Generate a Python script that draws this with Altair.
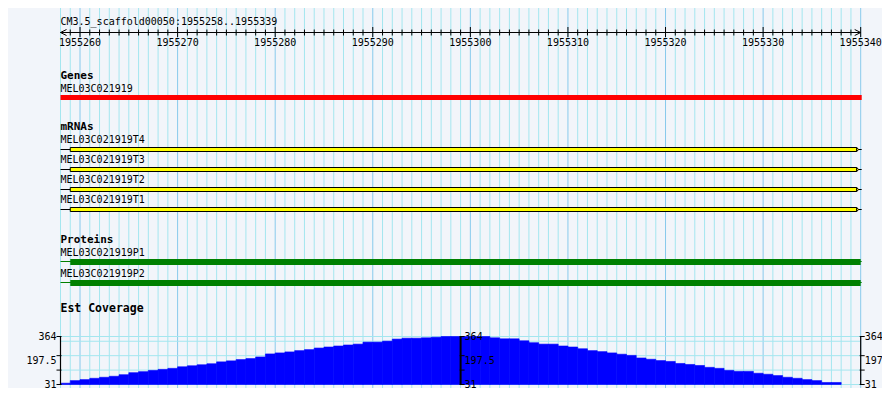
import altair as alt
import pandas as pd

# ---------------- data ----------------
scaffold = "CM3.5_scaffold00050"
view_start = 1955258
view_end = 1955339  # inclusive

gene_names = ["MEL03C021919"]
gene_start = [1955258]
gene_end = [1955340]

mrna_names = ["MEL03C021919T4", "MEL03C021919T3", "MEL03C021919T2", "MEL03C021919T1"]
mrna_start = [1955258, 1955258, 1955258, 1955258]
mrna_exon_start = [1955259, 1955259, 1955259, 1955259]
mrna_end = [1955340, 1955340, 1955340, 1955340]

protein_names = ["MEL03C021919P1", "MEL03C021919P2"]
protein_start = [1955258, 1955258]
protein_cds_start = [1955259, 1955259]
protein_end = [1955340, 1955340]

# EST coverage, one value per base starting at view_start
coverage = [40, 58, 65, 74, 81, 88, 99, 113, 120, 129,
            136, 143, 154, 161, 168, 175, 188, 195, 204, 211,
            222, 243, 250, 257, 266, 273, 284, 291, 298, 305,
            311, 325, 325, 332, 346, 352, 352, 355, 359, 364,
            364, 364, 364, 364, 355, 348, 348, 334, 321, 311,
            311, 298, 291, 279, 266, 259, 250, 241, 233, 215,
            206, 197, 191, 177, 170, 163, 150, 143, 129, 122,
            122, 109, 102, 93, 81, 74, 65, 58, 45, 45]
cov_min, cov_max = 31, 364
cov_label_values = [364, 197.5, 31]
cov_tick_values = [364, 231, 131, 31]
cov_grid_values = [364, 331, 231, 131, 31]

# ---------------- style ----------------
BG = "#F2F5FA"
GRID_MINOR = "#A4E6EF"
GRID_MAJOR = "#88CAEC"
FONT = "DejaVu Sans Mono"
W, H = 874, 380

xscale = alt.Scale(domain=[view_start, view_end + 1], range=[52.5, 852.7], nice=False, zero=False)
yscale = alt.Scale(domain=[cov_min, cov_max], range=[376.5, 328.5], nice=False, zero=False)


def X(f):
    return alt.X(f"{f}:Q", scale=xscale, axis=None)


def Yc(f):
    return alt.Y(f"{f}:Q", scale=yscale, axis=None)


def text_layer(df, field, y, bold=False, size=10, xfield="x"):
    return alt.Chart(df).mark_text(
        align="left", baseline="middle", font=FONT, fontSize=size,
        fontWeight="bold" if bold else "normal", color="black"
    ).encode(x=X(xfield), y=alt.value(y), text=f"{field}:N")


layers = []

# vertical grid
pos = list(range(view_start, view_end + 2))
grid_df = pd.DataFrame({"pos": pos, "major": [p % 10 == 0 for p in pos]})
layers.append(alt.Chart(grid_df).transform_filter("!datum.major").mark_rule(
    color=GRID_MINOR, strokeWidth=1).encode(x=X("pos"), y=alt.value(0), y2=alt.value(H)))
layers.append(alt.Chart(grid_df).transform_filter("datum.major").mark_rule(
    color=GRID_MAJOR, strokeWidth=1).encode(x=X("pos"), y=alt.value(0), y2=alt.value(H)))

# title + ruler
title_df = pd.DataFrame({"x": [view_start], "t": [f"{scaffold}:{view_start}..{view_end}"]})
layers.append(text_layer(title_df, "t", 13.5))

span_df = pd.DataFrame({"a": [view_start], "b": [view_end + 1]})
layers.append(alt.Chart(span_df).mark_rule(color="black", strokeWidth=1).encode(
    x=X("a"), x2="b:Q", y=alt.value(24.5)))
layers.append(alt.Chart(span_df).mark_point(
    shape="M2,-1L0,0L2,1", size=36, filled=False, stroke="black", strokeWidth=1, opacity=1
).encode(x=X("a"), y=alt.value(24.5)))
layers.append(alt.Chart(span_df).mark_point(
    shape="M-2,-1L0,0L-2,1", size=36, filled=False, stroke="black", strokeWidth=1, opacity=1
).encode(x=X("b"), y=alt.value(24.5)))

tick_df = pd.DataFrame({"pos": pos[1:], "major": [p % 10 == 0 for p in pos[1:]],
                        "label": [str(p) for p in pos[1:]]})
layers.append(alt.Chart(tick_df).transform_filter("!datum.major").mark_rule(
    color="black").encode(x=X("pos"), y=alt.value(21.5), y2=alt.value(27.5)))
layers.append(alt.Chart(tick_df).transform_filter("datum.major").mark_rule(
    color="black").encode(x=X("pos"), y=alt.value(19), y2=alt.value(29)))
layers.append(alt.Chart(tick_df).transform_filter("datum.major").mark_text(
    align="center", baseline="middle", font=FONT, fontSize=10, color="black"
).encode(x=X("pos"), y=alt.value(34.5), text="label:N"))

# Genes track
hdr_df = pd.DataFrame({"x": [view_start], "t": ["Genes"]})
layers.append(text_layer(hdr_df, "t", 68, bold=True, size=11))
gdf = pd.DataFrame({"x": gene_start, "x2": gene_end, "name": gene_names})
layers.append(text_layer(gdf, "name", 80.5))
layers.append(alt.Chart(gdf).mark_rect(color="#FF0000", x2Offset=1).encode(
    x=X("x"), x2="x2:Q", y=alt.value(87), y2=alt.value(92)))

# mRNA track
layers.append(text_layer(pd.DataFrame({"x": [view_start], "t": ["mRNAs"]}), "t", 119.3, bold=True, size=11))
for i, name in enumerate(mrna_names):
    d = pd.DataFrame({"x": [mrna_start[i]], "xe": [mrna_exon_start[i]], "x2": [mrna_end[i]], "name": [name]})
    dy = 20 * i
    layers.append(text_layer(d, "name", 132 + dy))
    layers.append(alt.Chart(d).mark_rule(color="black", strokeWidth=1, x2Offset=1).encode(
        x=X("x"), x2="x2:Q", y=alt.value(141.5 + dy)))
    layers.append(alt.Chart(d).mark_rect(fill="#FFFF00", stroke="black", strokeWidth=1, x2Offset=-4).encode(
        x=X("xe"), x2="x2:Q", y=alt.value(139.5 + dy), y2=alt.value(143.5 + dy)))
    layers.append(alt.Chart(d).mark_point(
        shape="M-1,-1L0,0L-1,1Z", size=16, filled=True, fill="#FFFF00", stroke="black",
        strokeWidth=1, opacity=1, xOffset=-2
    ).encode(x=X("x2"), y=alt.value(141.5 + dy)))

# Proteins track
layers.append(text_layer(pd.DataFrame({"x": [view_start], "t": ["Proteins"]}), "t", 232, bold=True, size=11))
for i, name in enumerate(protein_names):
    d = pd.DataFrame({"x": [protein_start[i]], "xc": [protein_cds_start[i]], "x2": [protein_end[i]], "name": [name]})
    dy = 21 * i
    layers.append(text_layer(d, "name", 244.5 + dy))
    layers.append(alt.Chart(d).mark_rule(color="#008000", strokeWidth=1, x2Offset=1).encode(
        x=X("x"), x2="x2:Q", y=alt.value(253.5 + dy)))
    layers.append(alt.Chart(d).mark_rect(color="#008000").encode(
        x=X("xc"), x2="x2:Q", y=alt.value(251 + dy), y2=alt.value(257 + dy)))

# Est Coverage track
layers.append(text_layer(pd.DataFrame({"x": [view_start], "t": ["Est Coverage"]}), "t", 301, bold=True, size=11.5))
hg_df = pd.DataFrame({"v": cov_grid_values, "a": view_start, "b": view_end + 1})
layers.append(alt.Chart(hg_df).mark_rule(color=GRID_MINOR, strokeWidth=1).encode(
    x=X("a"), x2="b:Q", y=Yc("v")))
cov_df = pd.DataFrame({"s": [view_start + i for i in range(len(coverage))],
                       "e": [view_start + i + 1 for i in range(len(coverage))],
                       "v": coverage, "base": cov_min})
layers.append(alt.Chart(cov_df).mark_rect(color="#0000FF", stroke="#0000FF", strokeWidth=0.6).encode(
    x=X("s"), x2="e:Q", y=Yc("v"), y2="base:Q"))

mid = (view_start + view_end + 1) / 2
ax_df = pd.DataFrame({"p": [view_start, mid, view_end + 1], "side": ["left", "mid", "right"],
                      "lo": cov_min, "hi": cov_max})
layers.append(alt.Chart(ax_df).transform_filter("datum.side != 'mid'").mark_rule(
    color="black", strokeWidth=1.2).encode(x=X("p"), y=Yc("lo"), y2="hi:Q"))
layers.append(alt.Chart(ax_df).transform_filter("datum.side == 'mid'").mark_rule(
    color="black", strokeWidth=2).encode(x=X("p"), y=Yc("lo"), y2="hi:Q"))

tk = pd.DataFrame([{"p": p, "side": s, "v": v} for p, s in zip(ax_df.p, ax_df.side) for v in cov_tick_values])
layers.append(alt.Chart(tk).transform_filter("datum.side == 'left'").mark_rule(
    color="black", strokeWidth=1, xOffset=-4, x2Offset=1).encode(x=X("p"), x2="p:Q", y=Yc("v")))
layers.append(alt.Chart(tk).transform_filter("datum.side != 'left'").mark_rule(
    color="black", strokeWidth=1, xOffset=-1, x2Offset=4).encode(x=X("p"), x2="p:Q", y=Yc("v")))

lb = pd.DataFrame([{"p": p, "side": s, "v": v, "t": f"{v:g}"} for p, s in zip(ax_df.p, ax_df.side)
                   for v in cov_label_values])
layers.append(alt.Chart(lb).transform_filter("datum.side == 'left'").mark_text(
    align="right", baseline="middle", font=FONT, fontSize=10, color="black", dx=-4
).encode(x=X("p"), y=Yc("v"), text="t:N"))
layers.append(alt.Chart(lb).transform_filter("datum.side != 'left'").mark_text(
    align="left", baseline="middle", font=FONT, fontSize=10, color="black", dx=4
).encode(x=X("p"), y=Yc("v"), text="t:N"))

chart = alt.layer(*layers).properties(
    width=W, height=H, autosize=alt.AutoSizeParams(type="none"), padding=0, background=BG
).configure_view(stroke=None, strokeWidth=0)

chart.save("out.html", embed_options={"renderer": "svg", "actions": False})
